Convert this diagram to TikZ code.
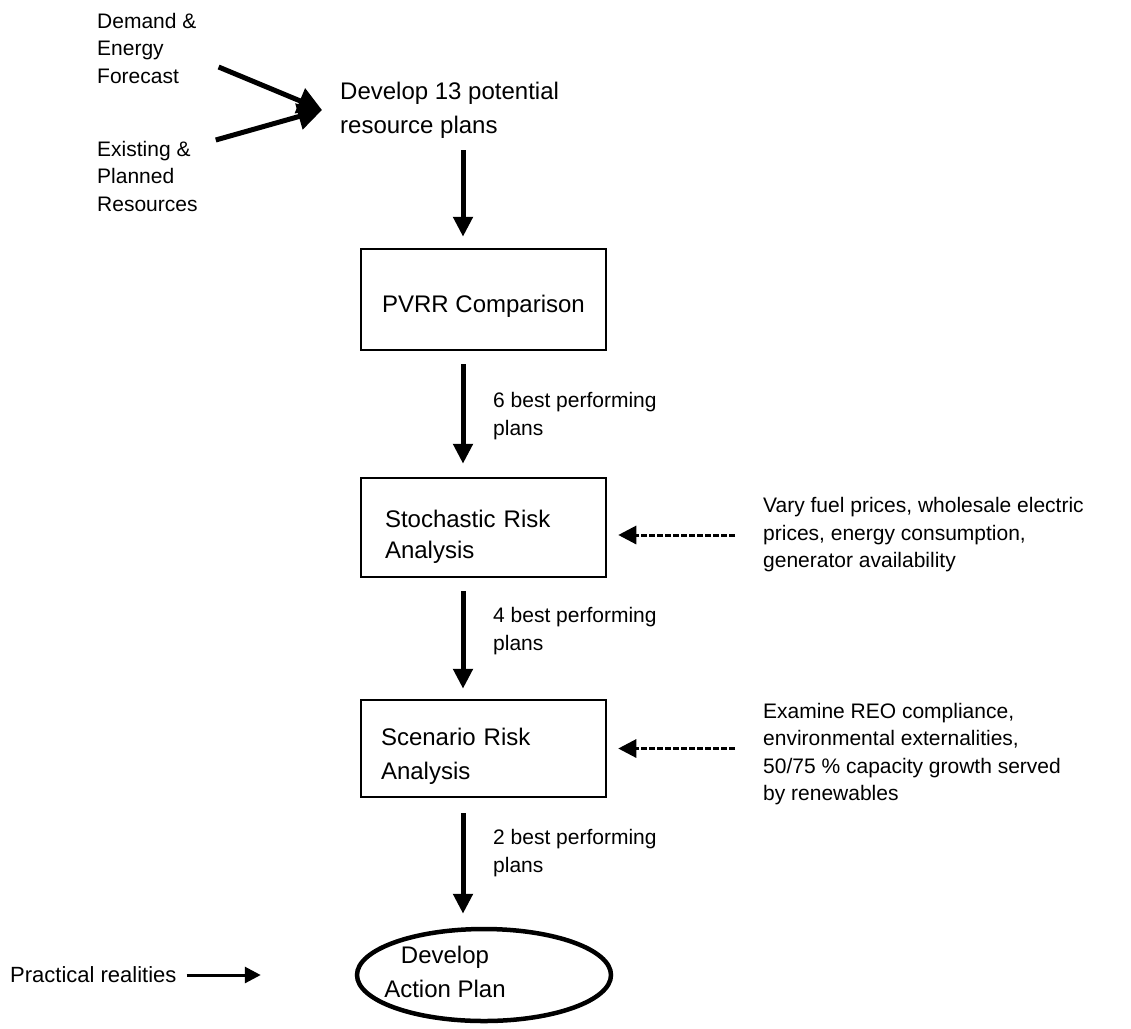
\documentclass[tikz,border=0pt]{standalone}
\usepackage{fontspec}
\setmainfont{Liberation Sans}
\usetikzlibrary{arrows.meta,shapes.geometric,calc}

\begin{document}
\begin{tikzpicture}[x=1pt,y=-1pt,
  small/.style={font=\fontsize{21}{27.5}\selectfont,align=left,inner sep=0pt},
  big/.style={font=\fontsize{24}{34}\selectfont,align=left,inner sep=0pt},
  stage/.style={draw,line width=2.5pt,minimum width=245pt,inner sep=0pt},
  flow/.style={line width=5pt,-{Triangle[length=20pt,width=19pt]}},
  feed/.style={line width=3pt,dash pattern=on 6pt off 2pt,-{Triangle[length=18pt,width=18pt]}}]
\useasboundingbox (0,0) rectangle (1131,1028);
\coordinate (spine) at (463,0);
\node[small,anchor=west] (demand) at (97,48) {Demand \&\\Energy\\Forecast};
\node[small,anchor=west] (existing) at (97,176) {Existing \&\\Planned\\Resources};
\node[big,anchor=west] (develop) at (340,110) {Develop 13 potential\\resource plans};
\draw[line width=5pt,-{Triangle[length=24pt,width=26pt]}] ($(demand.east)+(22,19)$) -- ([xshift=-18pt]develop.west);
\draw[line width=5pt,-{Triangle[length=24pt,width=26pt]}] ($(existing.east)+(18,-36)$) -- ([xshift=-18pt]develop.west);

\node[stage,minimum height=101pt,label={[big,yshift=-7pt]center:PVRR Comparison}] (pvrr) at (483.5,299.5) {};
\node[stage,minimum height=99pt,label={[font=\fontsize{24}{31}\selectfont,align=left,text width=197pt,yshift=-9pt]center:Stochastic Risk\\Analysis}] (stoch) at (483.5,527.5) {};
\node[stage,minimum height=97pt,label={[big,text width=205pt,yshift=-8pt]center:Scenario Risk\\Analysis}] (scen) at (483.5,748.5) {};
\node[draw,ellipse,line width=4.5pt,minimum width=254pt,minimum height=92pt] (action) at (484,975) {};
\node[big,align=center] (actiontext) at (445,972) {Develop\\Action Plan};

\draw[flow] (develop.south -| spine) ++(0,12) -- ([yshift=11pt]pvrr.north -| spine);
\draw[flow] ([yshift=-13pt]pvrr.south -| spine) -- ([yshift=13pt]stoch.north -| spine);
\draw[flow] ([yshift=-13pt]stoch.south -| spine) -- ([yshift=10pt]scen.north -| spine);
\draw[flow] ([yshift=-15pt]scen.south -| spine) -- ([yshift=13pt]action.north -| spine);

\node[small,anchor=west] (six) at (493,416) {6 best performing\\plans};
\node[small,anchor=west] (four) at (493,631) {4 best performing\\plans};
\node[small,anchor=west] (two) at (493,853) {2 best performing\\plans};

\node[small,anchor=west] (vary) at (763,535) {Vary fuel prices, wholesale electric\\prices, energy consumption,\\generator availability};
\node[small,anchor=west] (examine) at (763,754) {Examine REO compliance,\\environmental externalities,\\50/75 \% capacity growth served\\by renewables};
\draw[feed] ([xshift=-28pt]vary.west) -- ([xshift=11pt]stoch.east |- vary.west);
\draw[feed] ([xshift=-28pt]examine.west |- scen.east) -- ([xshift=11pt]scen.east);

\node[font=\fontsize{22}{30}\selectfont,inner sep=0pt,anchor=west] (practical) at (10,975) {Practical realities};
\draw[line width=3pt,-{Triangle[length=16pt,width=16pt]}] ([xshift=10pt]practical.east) -- ([xshift=-94pt]action.west);
\end{tikzpicture}
\end{document}
